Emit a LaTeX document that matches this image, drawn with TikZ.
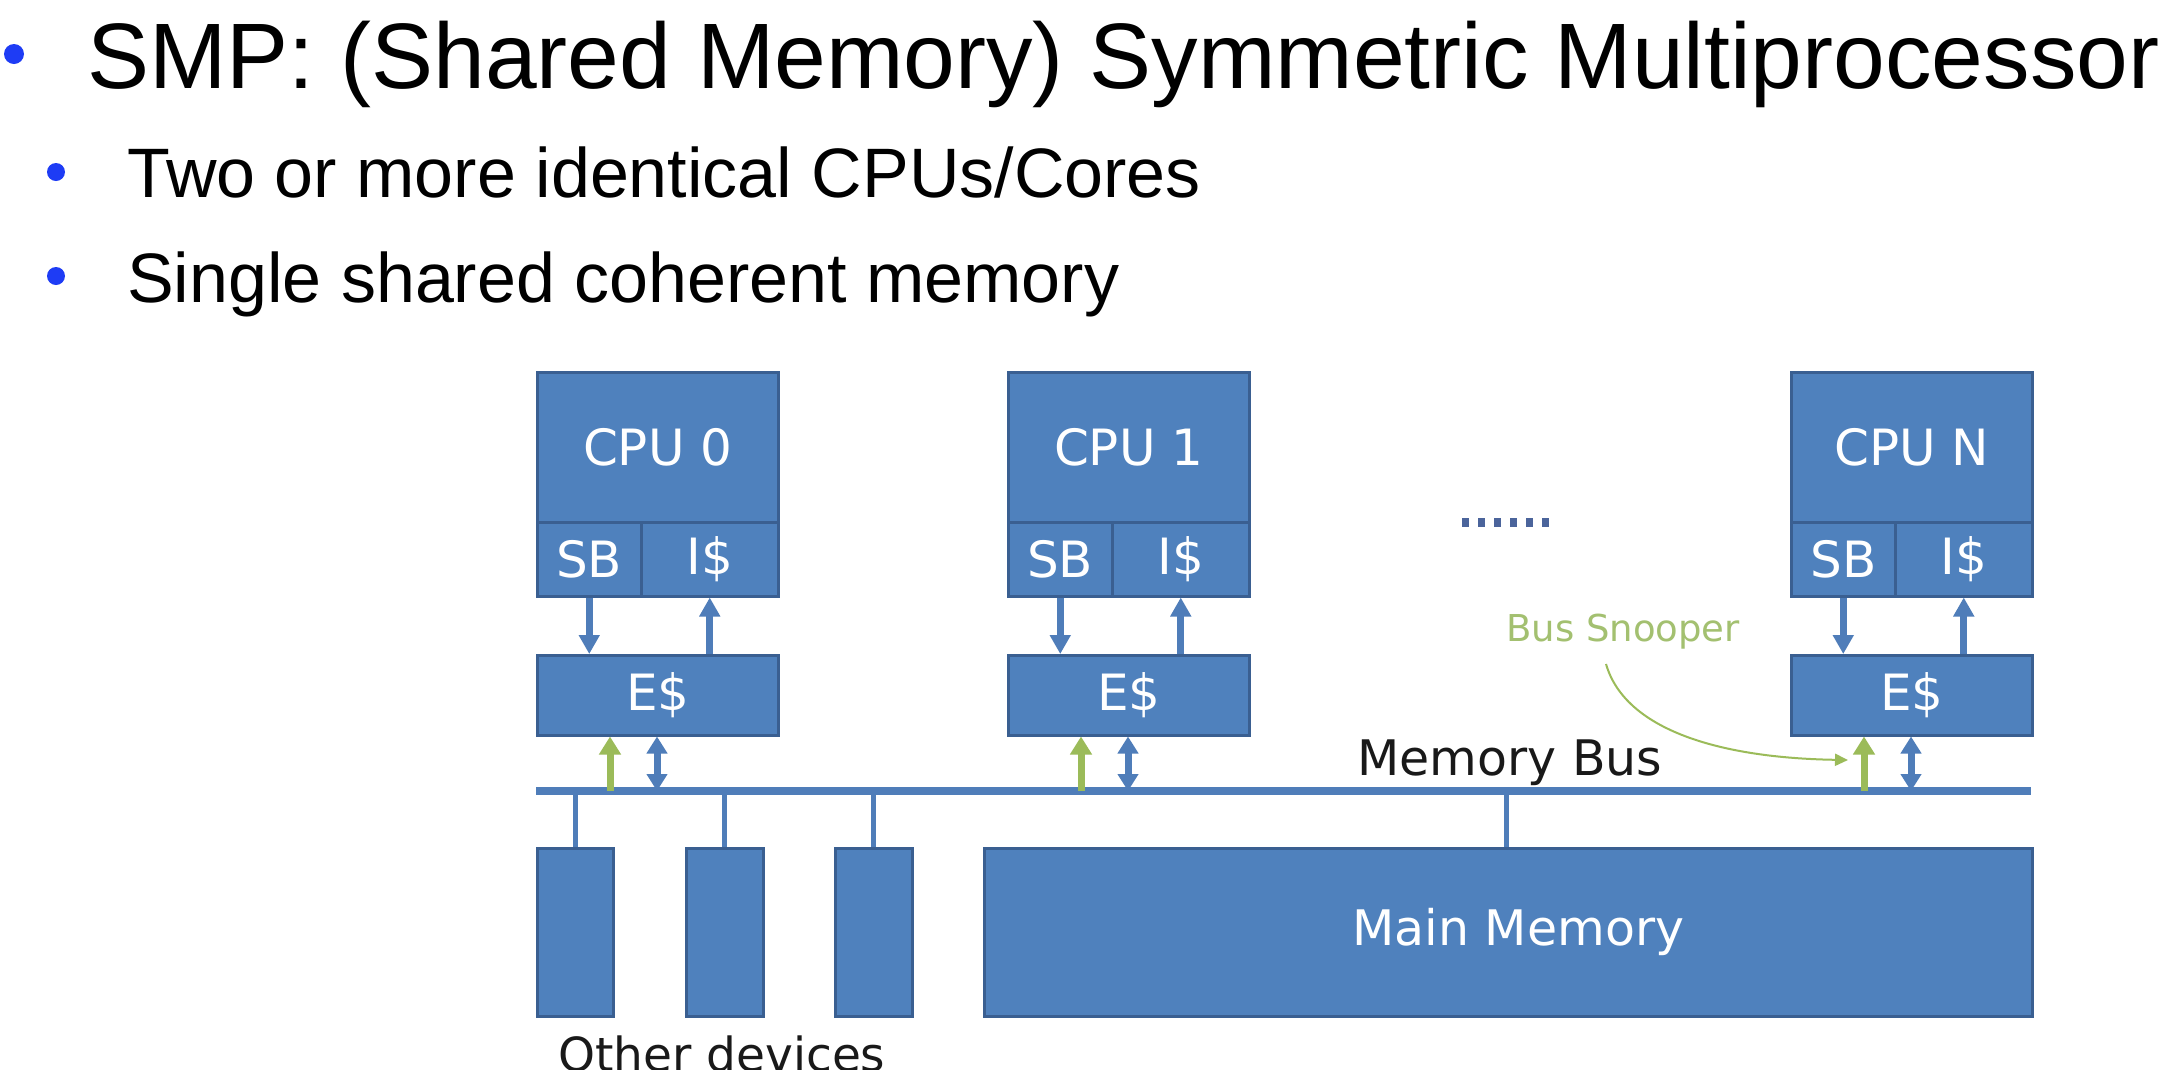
\documentclass[tikz,border=0pt]{standalone}
\usepackage{fontspec}
\setmainfont{Liberation Sans}
\newfontfamily\diagfont{DejaVu Sans}
\usetikzlibrary{arrows.meta}

\definecolor{boxblue}{RGB}{79,129,189}
\definecolor{boxedge}{RGB}{58,95,145}
\definecolor{linkblue}{RGB}{79,125,185}
\definecolor{dotblue}{RGB}{75,100,155}
\definecolor{snoopgreen}{RGB}{155,187,89}
\definecolor{snooptext}{RGB}{163,192,112}
\definecolor{bulletblue}{RGB}{30,60,245}
\definecolor{labelgray}{RGB}{25,25,25}

\tikzset{
  unitbox/.style={draw=boxedge, line width=2.5pt, fill=boxblue, inner sep=0pt,
    anchor=north west, text=white, font=\diagfont\fontsize{50}{60}\selectfont},
  busline/.style={draw=linkblue, line width=8pt},
  stubline/.style={draw=linkblue, line width=5pt},
  bluearrow/.style={draw=linkblue, line width=7pt,
    -{Triangle[width=20pt,length=19pt]}},
  twoway/.style={draw=linkblue, line width=7pt,
    {Triangle[width=20pt,length=17pt]}-{Triangle[width=20pt,length=17pt]}},
  greenarrow/.style={draw=snoopgreen, line width=7pt,
    -{Triangle[width=21pt,length=18pt]}},
  headline/.style={anchor=base west, inner sep=0pt, font=\fontsize{93}{110}\selectfont},
  subline/.style={anchor=base west, inner sep=0pt, font=\fontsize{70}{84}\selectfont},
  diaglabel/.style={inner sep=0pt, font=\diagfont\fontsize{49}{58}\selectfont}
}

\begin{document}
\begin{tikzpicture}[x=1pt,y=-1pt]
\useasboundingbox (0,0) rectangle (2171,1069);
\clip (0,0) rectangle (2171,1069);
\fill[white] (0,0) rectangle (2171,1069);

% bullet list
\fill[bulletblue] (14,54) circle (10);
\node[headline] (title) at (87,88) {SMP: (Shared Memory) Symmetric Multiprocessor};
\fill[bulletblue] (56,172) circle (9);
\node[subline] (item1) at (127,197) {Two or more identical CPUs/Cores};
\fill[bulletblue] (56,276) circle (9);
\node[subline] (item2) at (127,302) {Single shared coherent memory};

% memory bus
\coordinate (busL) at (536,791);
\coordinate (busR) at (2031,791);
\draw[busline] (busL) -- (busR);

% processors: left edge / name / label
\foreach \x/\n/\lab in {536/0/CPU 0, 1007/1/CPU 1, 1790/N/CPU N}{
  \node[unitbox, minimum width=241pt, minimum height=150pt] (cpu\n) at (\x,371) {\lab};
  \node[unitbox, minimum width=104pt, minimum height=74pt] (sb\n) at (\x,521) {SB};
  \node[unitbox, minimum width=137pt, minimum height=74pt] (ic\n) at (\x+104,521) {I\$};
  \node[unitbox, minimum width=241pt, minimum height=80pt] (ec\n) at (\x,654) {E\$};
  % store buffer writes down, instruction cache fills up
  \draw[bluearrow] (sb\n.south) -- (sb\n.south |- ec\n.north);
  \draw[bluearrow] (ic\n.south |- ec\n.north) -- (ic\n.south);
  % snoop and data paths to the bus
  \coordinate (snoop\n) at (\x+74,791);
  \coordinate (data\n) at (\x+121,791);
  \draw[greenarrow] (snoop\n) -- (snoop\n |- ec\n.south);
  \draw[twoway] (data\n) -- (data\n |- ec\n.south);
}

% ellipsis between CPU 1 and CPU N
\foreach \k in {0,...,5}{
  \fill[dotblue] (1462+16*\k,518) rectangle ++(7,9);
}

% devices and main memory
\node[unitbox, minimum width=76pt, minimum height=168pt] (dev1) at (536,847) {};
\node[unitbox, minimum width=77pt, minimum height=168pt] (dev2) at (685,847) {};
\node[unitbox, minimum width=77pt, minimum height=168pt] (dev3) at (834,847) {};
\node[unitbox, minimum width=1048pt, minimum height=168pt] (mem) at (983,847) {};
\node[diaglabel, text=white, xshift=10pt] (memlabel) at (mem.center) {Main Memory};

\foreach \d in {dev1,dev2,dev3}{
  \draw[stubline] (\d.north |- busL) -- (\d.north);
}
\coordinate (memtap) at (1506,847);
\draw[stubline] (memtap |- busL) -- (memtap);

% labels
\node[diaglabel, anchor=base west, text=labelgray] (buslabel) at (1357,775) {Memory Bus};
\node[inner sep=0pt, anchor=base west, text=labelgray, font=\diagfont\fontsize{47}{56}\selectfont]
  (devlabel) at (558,1071) {Other devices};
\node[inner sep=0pt, anchor=base west, text=snooptext, font=\diagfont\fontsize{37}{44}\selectfont]
  (snooplabel) at (1506,641) {Bus Snooper};
\coordinate (snooptail) at (1606,664);
\coordinate (snooptip) at (1848,760);
\draw[snoopgreen, line width=2pt, -{Triangle[width=12pt,length=13pt]}]
  (snooptail) .. controls (1625,730) and (1720,758) .. (snooptip);
\end{tikzpicture}
\end{document}
